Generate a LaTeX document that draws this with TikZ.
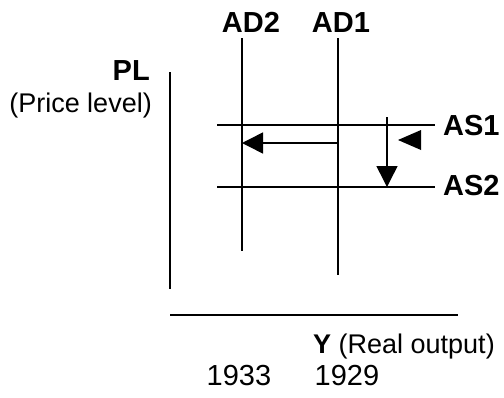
\documentclass[tikz,border=0pt]{standalone}
\usepackage{fontspec}
\setmainfont{Liberation Sans}
\usetikzlibrary{arrows.meta}
\tikzset{
    thinline/.style={line width=1.5pt},
    shiftarrow/.style={line width=1.5pt, -{Triangle[length=21pt, width=21pt]}},
    lbl/.style={inner sep=0pt, font=\fontsize{27}{31}\selectfont},
    yearlbl/.style={inner sep=0pt, font=\fontsize{29}{33}\selectfont},
    boldlbl/.style={inner sep=0pt, font=\fontsize{29}{33}\selectfont\bfseries}
}
\begin{document}
\begin{tikzpicture}[x=1pt, y=-1pt]
    \useasboundingbox (0,0) rectangle (504,397);

    \coordinate (ytop) at (170,72);
    \coordinate (ybot) at (170,289);
    \coordinate (xleft) at (170,315);
    \coordinate (xright) at (458,315);

    \coordinate (ad2top) at (242,38);
    \coordinate (ad2bot) at (242,251);
    \coordinate (ad1top) at (338,38);
    \coordinate (ad1bot) at (338,275);

    \coordinate (as1left) at (217,125);
    \coordinate (as1right) at (435,125);
    \coordinate (as2left) at (217,187);
    \coordinate (as2right) at (435,187);

    \coordinate (shiftstart) at (338,143);
    \coordinate (shiftend) at (242,143);
    \coordinate (dropstart) at (387,117);
    \coordinate (dropend) at (387,187);

    \draw[thinline] (ytop) -- (ybot);
    \draw[thinline] (xleft) -- (xright);
    \draw[thinline] (ad2top) -- (ad2bot);
    \draw[thinline] (ad1top) -- (ad1bot);
    \draw[thinline] (as1left) -- (as1right);
    \draw[thinline] (as2left) -- (as2right);

    \draw[shiftarrow] (shiftstart) -- (shiftend);
    \draw[shiftarrow] (dropstart) -- (dropend);
    \fill (398,140) -- (421,130) -- (421,150) -- cycle;

    \node[boldlbl, anchor=base east] (pl) at (150,80) {PL};
    \node[lbl, anchor=base east] (plnote) at (152,112) {(Price level)};
    \node[boldlbl, anchor=base] (ad2) at (251,32) {AD2};
    \node[boldlbl, anchor=base] (ad1) at (341,32) {AD1};
    \node[boldlbl, anchor=base west] (as1) at (443,135) {AS1};
    \node[boldlbl, anchor=base west] (as2) at (443,195) {AS2};
    \node[lbl, anchor=base west] (ylabel) at (313,353) {\textbf{Y} (Real output)};
    \node[yearlbl, anchor=base] (y1933) at (239,385) {1933};
    \node[yearlbl, anchor=base] (y1929) at (347,385) {1929};
\end{tikzpicture}
\end{document}
